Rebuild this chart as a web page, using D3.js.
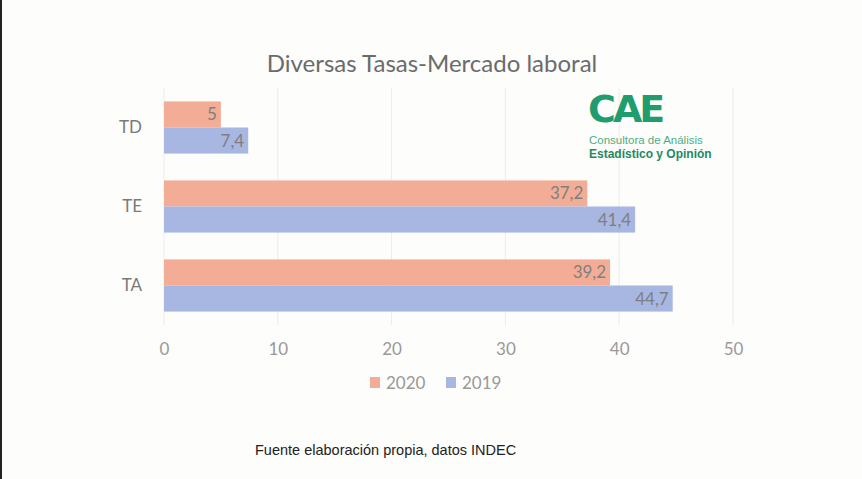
<!DOCTYPE html>
<html>
<head>
<meta charset="utf-8">
<script src="https://cdn.jsdelivr.net/npm/d3@7"></script>
<style>
  html, body { margin: 0; padding: 0; background: #fdfdfb; }
  svg { display: block; }
</style>
</head>
<body>
<script>
// Data
var categories = ["TD", "TE", "TA"];
var series = ["2020", "2019"];
var values2020 = [5, 37.2, 39.2];
var values2019 = [7.4, 41.4, 44.7];
var xTicks = [0, 10, 20, 30, 40, 50];

var width = 862, height = 479;
var colors = { "2020": "#f3ad97", "2019": "#a8b6e2" };

var svg = d3.select("body").append("svg")
  .attr("width", width)
  .attr("height", height);

svg.append("rect").attr("width", width).attr("height", height).attr("fill", "#fdfdfb");
// dark strip on left edge
svg.append("rect").attr("x", 0).attr("y", 0).attr("width", 2).attr("height", height).attr("fill", "#222");

// scales
var x = d3.scaleLinear().domain([0, 50]).range([164, 733]);
var y = d3.scaleBand().domain(categories).range([88, 325]).paddingInner(0.34).paddingOuter(0.17);
var ySub = d3.scaleBand().domain(series).range([0, y.bandwidth()]);

// title
svg.append("text")
  .attr("x", 432).attr("y", 72)
  .attr("text-anchor", "middle")
  .attr("font-family", "Lato, 'Open Sans', sans-serif")
  .attr("font-size", 24)
  .attr("fill", "#6b6b6b")
  .text("Diversas Tasas-Mercado laboral");

// gridlines
svg.append("g")
  .selectAll("line")
  .data(xTicks)
  .enter().append("line")
  .attr("x1", function (d) { return x(d); })
  .attr("x2", function (d) { return x(d); })
  .attr("y1", 88).attr("y2", 325)
  .attr("stroke", "#ececec")
  .attr("stroke-width", 1);

// bars
var rows = categories.map(function (c, i) {
  return { cat: c, vals: [{ s: "2020", v: values2020[i] }, { s: "2019", v: values2019[i] }] };
});

var group = svg.selectAll("g.row")
  .data(rows)
  .enter().append("g")
  .attr("class", "row")
  .attr("transform", function (d) { return "translate(0," + y(d.cat) + ")"; });

group.selectAll("rect")
  .data(function (d) { return d.vals; })
  .enter().append("rect")
  .attr("x", x(0))
  .attr("y", function (d) { return ySub(d.s); })
  .attr("width", function (d) { return x(d.v) - x(0); })
  .attr("height", ySub.bandwidth())
  .attr("fill", function (d) { return colors[d.s]; });

group.selectAll("text")
  .data(function (d) { return d.vals; })
  .enter().append("text")
  .attr("x", function (d) { return x(d.v) - 4; })
  .attr("y", function (d) { return ySub(d.s) + ySub.bandwidth() / 2 + 6; })
  .attr("text-anchor", "end")
  .attr("font-family", "Lato, 'Open Sans', sans-serif")
  .attr("font-size", 17)
  .attr("fill", "#7f7f7f")
  .text(function (d) { return String(d.v).replace(".", ","); });

// category axis
var yAxis = svg.append("g")
  .attr("transform", "translate(" + (x(0) - 22) + ",0)")
  .call(d3.axisLeft(y).tickSize(0).tickPadding(0));
yAxis.select(".domain").remove();
yAxis.selectAll("text")
  .attr("font-family", "Lato, 'Open Sans', sans-serif")
  .attr("font-size", 17)
  .attr("fill", "#7a7a7a");

// value axis
var xAxis = svg.append("g")
  .attr("transform", "translate(0,340)")
  .call(d3.axisBottom(x).tickValues(xTicks).tickSize(0).tickPadding(0));
xAxis.select(".domain").remove();
xAxis.selectAll("text")
  .attr("dy", "0.9em")
  .attr("font-family", "Lato, 'Open Sans', sans-serif")
  .attr("font-size", 17)
  .attr("fill", "#999");

// legend
var legendItems = [{ s: "2020", x: 370 }, { s: "2019", x: 446 }];
var legend = svg.selectAll("g.legend")
  .data(legendItems)
  .enter().append("g")
  .attr("class", "legend")
  .attr("transform", function (d) { return "translate(" + d.x + ",377)"; });
legend.append("rect")
  .attr("width", 10).attr("height", 11)
  .attr("fill", function (d) { return colors[d.s]; });
legend.append("text")
  .attr("x", 16).attr("y", 12)
  .attr("font-family", "Lato, 'Open Sans', sans-serif")
  .attr("font-size", 17)
  .attr("fill", "#999")
  .text(function (d) { return d.s; });

// logo
var logo = svg.append("g").attr("transform", "translate(588,122)");
logo.append("text")
  .attr("x", 0).attr("y", 0)
  .attr("font-family", "'DejaVu Sans', sans-serif")
  .attr("font-weight", "bold")
  .attr("font-size", 38)
  .attr("letter-spacing", -3)
  .attr("fill", "#1f9d6f")
  .text("CAE");
logo.append("text")
  .attr("x", 1).attr("y", 22)
  .attr("font-family", "'Liberation Sans Narrow', sans-serif")
  .attr("font-size", 11.5)
  .attr("fill", "#4dae86")
  .text("Consultora de Análisis");
logo.append("text")
  .attr("x", 1).attr("y", 36)
  .attr("font-family", "'Liberation Sans Narrow', sans-serif")
  .attr("font-weight", "bold")
  .attr("font-size", 12)
  .attr("fill", "#1d8a5f")
  .text("Estadístico y Opinión");

// source note
svg.append("text")
  .attr("x", 255).attr("y", 455)
  .attr("font-family", "'Liberation Sans Narrow', sans-serif")
  .attr("font-size", 14.5)
  .attr("fill", "#222")
  .text("Fuente elaboración propia, datos INDEC");
</script>
</body>
</html>
